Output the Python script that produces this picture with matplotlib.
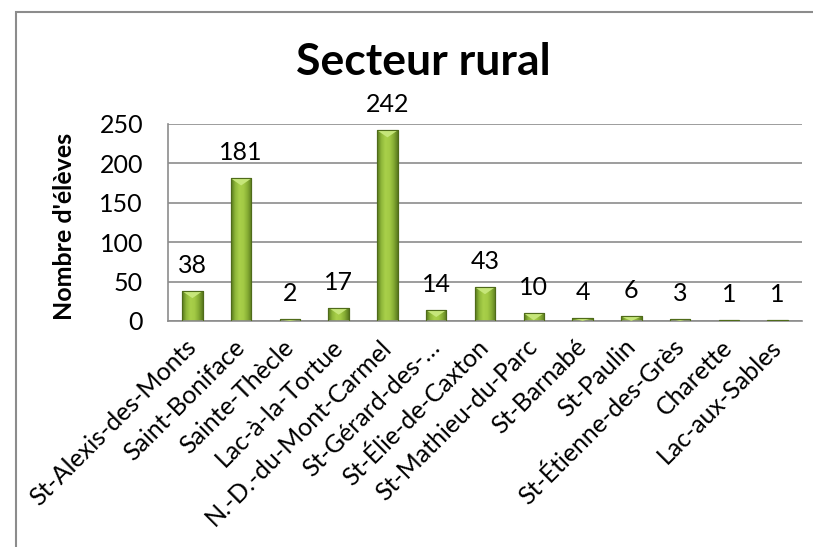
import numpy as np
import matplotlib
matplotlib.use("Agg")
import matplotlib.pyplot as plt
from matplotlib.colors import LinearSegmentedColormap
from matplotlib.patches import Polygon, Rectangle

categories = ["St-Alexis-des-Monts", "Saint-Boniface", "Sainte-Thècle", "Lac-à-la-Tortue",
              "N.-D.-du-Mont-Carmel", "St-Gérard-des-…", "St-Élie-de-Caxton",
              "St-Mathieu-du-Parc", "St-Barnabé", "St-Paulin", "St-Étienne-des-Grès",
              "Charette", "Lac-aux-Sables"]
values = [38, 181, 2, 17, 242, 14, 43, 10, 4, 6, 3, 1, 1]
yticks = [0, 50, 100, 150, 200, 250]
title = "Secteur rural"
ylabel = "Nombre d'élèves"

plt.rcParams['font.family'] = ['Lato', 'DejaVu Sans']

W, H = 813, 547
fig = plt.figure(figsize=(W / 100, H / 100), dpi=100)
fig.patch.set_facecolor("white")
ax = fig.add_axes([168 / W, 1 - 321 / H, (802 - 168) / W, (321 - 124) / H])

x = np.arange(len(categories))
bw = 0.42
grid_c = "#8c8c8c"
fs = 18

ax.set_ylim(0, 250)
ax.set_xlim(-0.5, len(categories) - 0.5)
ax.set_yticks(yticks)
ax.yaxis.grid(True, color=grid_c, linewidth=1.2)
ax.set_axisbelow(True)
for s in ["top", "right"]:
    ax.spines[s].set_visible(False)
ax.spines["left"].set_color(grid_c)
ax.spines["left"].set_linewidth(1.2)
ax.spines["bottom"].set_color(grid_c)
ax.spines["bottom"].set_linewidth(1.2)

bars = ax.bar(x, values, width=bw, color="#8db33a", edgecolor="#4f6b1a",
              linewidth=0.8, zorder=2)

grad = LinearSegmentedColormap.from_list(
    "g", ["#56761c", "#8fb83a", "#a9d04a", "#a3ca45", "#86ad34", "#5a7a1e"])
gimg = np.linspace(0, 1, 64).reshape(1, -1)
bev = 9.0
for b, v in zip(bars, values):
    x0 = b.get_x()
    x1 = x0 + b.get_width()
    im = ax.imshow(gimg, cmap=grad, extent=[x0, x1, 0, v], aspect="auto",
                   zorder=2.5, interpolation="bilinear")
    im.set_clip_path(b)
    hb = min(bev, v)
    tri = Polygon([[x0, v], [x1, v], [(x0 + x1) / 2, v - hb]], closed=True,
                  facecolor="#c6e67a", edgecolor="none", zorder=2.6)
    ax.add_patch(tri)
    tri.set_clip_path(b)
    ax.add_patch(Rectangle((x0, 0), x1 - x0, v, fill=False, edgecolor="#4f6b1a",
                           linewidth=0.8, zorder=2.7))
    ax.annotate(str(v), (b.get_x() + b.get_width() / 2, v), xytext=(0, 13),
                textcoords="offset points", ha="center", va="baseline",
                fontsize=fs, color="black")

ax.set_xticks(x)
ax.set_xticklabels(categories, rotation=45, ha="right", va="center",
                   rotation_mode="anchor", fontsize=fs)
ax.tick_params(axis="x", length=0, pad=16)
ax.tick_params(axis="y", length=0, pad=18, labelsize=fs)

ax.set_ylabel(ylabel, fontsize=fs, fontweight="bold")
ax.yaxis.set_label_coords((76 - 168) / 634, (321 - 226) / 197)

fig.text(423 / W, 1 - 62 / H, title, ha="center", va="center",
         fontsize=32, fontweight="bold")

fig.add_artist(Rectangle((16 / W, -1), 2, 2 - 12 / H, transform=fig.transFigure,
                         fill=False, edgecolor=grid_c, linewidth=1.5))

fig.savefig("out.png", dpi=100)
